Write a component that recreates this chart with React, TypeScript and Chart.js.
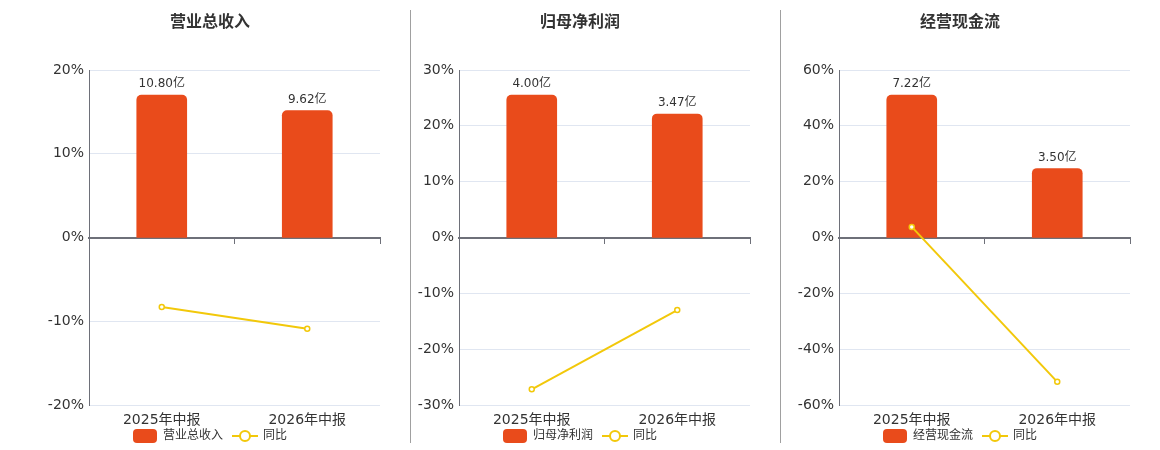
import React, { useEffect, useRef } from 'react';
import { Chart, registerables } from 'chart.js';

Chart.register(...registerables);

const categories = ['2025年中报', '2026年中报'];
const panelTitles = ['营业总收入', '归母净利润', '经营现金流'];
const revenueValues = [10.8, 9.62];
const netProfitValues = [4.0, 3.47];
const cashFlowValues = [7.22, 3.5];
const revenueYoy = [-8.3, -10.9];
const netProfitYoy = [-27.2, -13.0];
const cashFlowYoy = [3.8, -51.7];
const revenueTicks = [-20, -10, 0, 10, 20];
const netProfitTicks = [-30, -20, -10, 0, 10, 20, 30];
const cashFlowTicks = [-60, -40, -20, 0, 20, 40, 60];
const yoyLabel = '同比';
const unit = '亿';

const FONT = "'DejaVu Sans', 'Noto Sans CJK SC', sans-serif";
const BAR_COLOR = '#e94b1b';
const LINE_COLOR = '#f2c80a';
const AXIS_COLOR = '#6e7079';
const GRID_COLOR = '#e0e6f1';
const TEXT_COLOR = '#333333';

function makeBarIcon(): HTMLCanvasElement {
  const c = document.createElement('canvas');
  c.width = 24;
  c.height = 14;
  const ctx = c.getContext('2d')!;
  ctx.fillStyle = BAR_COLOR;
  ctx.beginPath();
  (ctx as any).roundRect(0, 0, 24, 14, 4);
  ctx.fill();
  return c;
}

function makeLineIcon(): HTMLCanvasElement {
  const c = document.createElement('canvas');
  c.width = 26;
  c.height = 14;
  const ctx = c.getContext('2d')!;
  ctx.strokeStyle = LINE_COLOR;
  ctx.lineWidth = 2;
  ctx.beginPath();
  ctx.moveTo(0, 7);
  ctx.lineTo(26, 7);
  ctx.stroke();
  ctx.beginPath();
  ctx.arc(13, 7, 5, 0, Math.PI * 2);
  ctx.fillStyle = '#ffffff';
  ctx.fill();
  ctx.stroke();
  return c;
}

const barLabelPlugin = {
  id: 'barLabels',
  afterDatasetsDraw(chart: any) {
    const ctx = chart.ctx;
    chart.data.datasets.forEach((ds: any, i: number) => {
      if (ds.type !== 'bar') return;
      const meta = chart.getDatasetMeta(i);
      meta.data.forEach((el: any, j: number) => {
        ctx.save();
        ctx.font = '12px ' + FONT;
        ctx.fillStyle = TEXT_COLOR;
        ctx.textAlign = 'center';
        ctx.textBaseline = 'middle';
        ctx.fillText(Number(ds.data[j]).toFixed(2) + unit, el.x, el.y - 11);
        ctx.restore();
      });
    });
  },
};

type PanelProps = {
  title: string;
  bars: number[];
  yoy: number[];
  ticks: number[];
  left: number;
};

function Panel({ title, bars, yoy, ticks, left }: PanelProps) {
  const ref = useRef<HTMLCanvasElement>(null);
  useEffect(() => {
    if (!ref.current) return;
    const barIcon = makeBarIcon();
    const lineIcon = makeLineIcon();
    const barMax = Math.max(...bars) / 0.85;
    const chart = new Chart(ref.current, {
      type: 'bar',
      data: {
        labels: categories,
        datasets: [
          {
            type: 'bar',
            label: title,
            data: bars,
            backgroundColor: BAR_COLOR,
            borderRadius: 5,
            barThickness: 50,
            yAxisID: 'yb',
            order: 1,
          } as any,
          {
            type: 'line',
            label: yoyLabel,
            data: yoy,
            borderColor: LINE_COLOR,
            borderWidth: 2,
            pointRadius: 2.5,
            pointBorderWidth: 1.5,
            pointBackgroundColor: '#ffffff',
            pointBorderColor: LINE_COLOR,
            tension: 0,
            yAxisID: 'y',
            order: 0,
          } as any,
        ],
      },
      options: {
        responsive: false,
        animation: false,
        layout: { padding: { left: 15, right: 15, top: 0, bottom: 0 } },
        scales: {
          x: {
            type: 'category',
            grid: { display: false, drawTicks: false },
            border: { display: false },
            ticks: { display: false },
            afterFit: (s: any) => {
              s.height = 15;
            },
          },
          xl: {
            type: 'category',
            labels: categories,
            position: { y: ticks[0] } as any,
            grid: { display: false, drawTicks: false },
            border: { display: false },
            ticks: { color: TEXT_COLOR, font: { size: 14, family: FONT }, padding: 7 },
          },
          x2: {
            type: 'category',
            labels: categories,
            position: { y: 0 } as any,
            grid: {
              display: true,
              drawOnChartArea: false,
              drawTicks: true,
              tickLength: 5,
              offset: true,
              color: AXIS_COLOR,
              lineWidth: 1,
            },
            border: { display: true, color: AXIS_COLOR, width: 2 },
            ticks: { display: false },
          },
          y: {
            type: 'linear',
            position: 'left',
            min: ticks[0],
            max: ticks[ticks.length - 1],
            ticks: {
              stepSize: ticks[1] - ticks[0],
              color: TEXT_COLOR,
              font: { size: 14, family: FONT },
              padding: 5,
              callback: (v: any) => v + '%',
            },
            grid: {
              drawTicks: false,
              color: (c: any) => (c.tick && c.tick.value === 0 ? 'rgba(0,0,0,0)' : GRID_COLOR),
            },
            border: { display: true, color: AXIS_COLOR, width: 1 },
            afterFit: (s: any) => {
              s.width = 49;
            },
          },
          yb: {
            type: 'linear',
            display: false,
            position: 'right',
            min: -barMax,
            max: barMax,
          },
        } as any,
        plugins: {
          title: {
            display: true,
            text: title,
            color: TEXT_COLOR,
            font: { size: 16, weight: 'bold', family: FONT },
            padding: { top: 13, bottom: 37.8 },
          },
          legend: {
            display: true,
            position: 'bottom',
            labels: {
              usePointStyle: true,
              pointStyleWidth: 24,
              boxHeight: 12,
              padding: 10,
              color: TEXT_COLOR,
              font: { size: 12, family: FONT },
              generateLabels: (ch: any) => {
                const items = (Chart.defaults.plugins.legend.labels as any).generateLabels(ch);
                items.forEach((it: any) => {
                  it.pointStyle = it.datasetIndex === 0 ? barIcon : lineIcon;
                  it.fontColor = TEXT_COLOR;
                });
                return items.sort((a: any, b: any) => a.datasetIndex - b.datasetIndex);
              },
            },
          },
          tooltip: { enabled: false },
        },
      },
      plugins: [barLabelPlugin],
    });
    return () => chart.destroy();
  }, [title, bars, yoy, ticks]);
  return (
    <canvas
      ref={ref}
      width={370}
      height={452}
      style={{ position: 'absolute', left, top: 0, width: 370, height: 452 }}
    />
  );
}

export default function App() {
  return (
    <div style={{ position: 'fixed', left: 0, top: 0, width: 1160, height: 452, background: '#fff' }}>
      <div style={{ position: 'absolute', left: 410, top: 10, width: 1, height: 433, background: '#a0a0a0' }} />
      <div style={{ position: 'absolute', left: 780, top: 10, width: 1, height: 433, background: '#a0a0a0' }} />
      <Panel title={panelTitles[0]} bars={revenueValues} yoy={revenueYoy} ticks={revenueTicks} left={25} />
      <Panel title={panelTitles[1]} bars={netProfitValues} yoy={netProfitYoy} ticks={netProfitTicks} left={395} />
      <Panel title={panelTitles[2]} bars={cashFlowValues} yoy={cashFlowYoy} ticks={cashFlowTicks} left={775} />
    </div>
  );
}
